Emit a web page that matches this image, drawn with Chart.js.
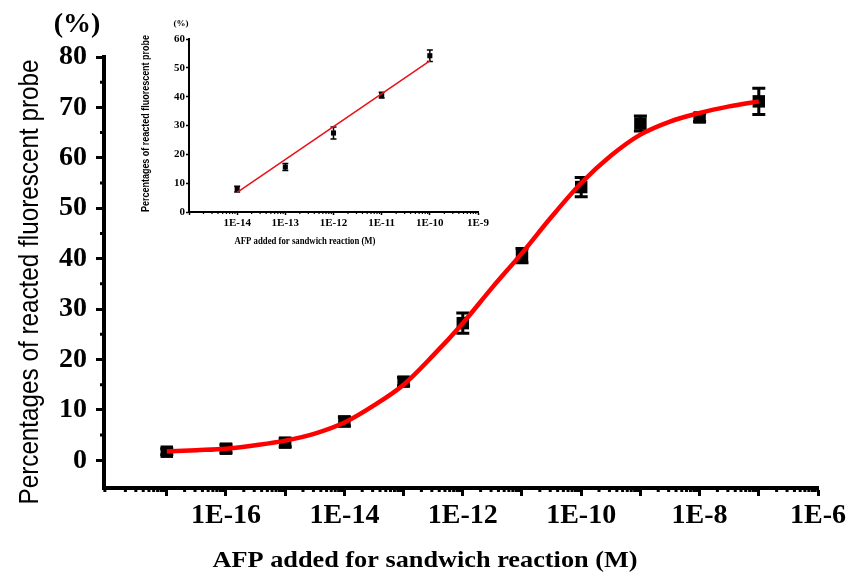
<!DOCTYPE html>
<html>
<head>
<meta charset="utf-8">
<script src="https://cdn.jsdelivr.net/npm/chart.js@4.4.0/dist/chart.umd.min.js"></script>
<style>
html, body { margin: 0; padding: 0; background: #fff; }
#wrap { position: relative; width: 849px; height: 577px; }
#mainChart { position: absolute; left: 0; top: 0; }
#insetChart { position: absolute; left: 135px; top: 10px; }
</style>
</head>
<body>
<div id="wrap">
  <canvas id="mainChart" width="849" height="577"></canvas>
  <canvas id="insetChart" width="365" height="245"></canvas>
</div>
<script>
// main plot - measured points (M, %)
const concM = [1e-17, 1e-16, 1e-15, 1e-14, 1e-13, 1e-12, 1e-11, 1e-10, 1e-9, 1e-8, 1e-7];
const reactedPct = [1.7, 2.3, 3.5, 7.7, 15.6, 27.2, 40.6, 54.2, 66.8, 68.0, 71.2];
const reactedErr = [0.6, 0.8, 0.8, 0.9, 0.8, 2.0, 1.4, 1.9, 1.5, 0.8, 2.6];

// red sigmoid fit, every half decade
const fitConc = [1e-17, 3.16e-17, 1e-16, 3.16e-16, 1e-15, 3.16e-15, 1e-14, 3.16e-14, 1e-13, 3.16e-13, 1e-12,
                 3.16e-12, 1e-11, 3.16e-11, 1e-10, 3.16e-10, 1e-9, 3.16e-9, 1e-8, 3.16e-8, 1e-7];
const fitPct = [1.75, 2.0, 2.3, 3.0, 3.9, 5.3, 7.5, 10.9, 15.0, 20.8, 27.2,
                34.3, 41.1, 48.3, 55.0, 60.4, 64.6, 67.2, 68.9, 70.2, 71.2];

const yTicks = [0, 10, 20, 30, 40, 50, 60, 70, 80];
const yMinor = [5, 15, 25, 35, 45, 55, 65, 75];
const xMajor = [1e-17, 1e-16, 1e-15, 1e-14, 1e-13, 1e-12, 1e-11, 1e-10, 1e-9, 1e-8, 1e-7, 1e-6];
const xTickLabels = ['', '1E-16', '', '1E-14', '', '1E-12', '', '1E-10', '', '1E-8', '', '1E-6'];

// inset - linear range
const insetConc = [1e-14, 1e-13, 1e-12, 1e-11, 1e-10];
const insetPct = [7.9, 15.6, 27.4, 40.5, 54.2];
const insetErr = [1.0, 1.2, 2.1, 1.0, 2.0];
const insetFitConc = [1e-14, 1e-10];
const insetFitPct = [6.8, 52.4];
const insetYTicks = [0, 10, 20, 30, 40, 50, 60];
const insetXMajor = [1e-15, 1e-14, 1e-13, 1e-12, 1e-11, 1e-10, 1e-9];
const insetXLabels = ['', '1E-14', '1E-13', '1E-12', '1E-11', '1E-10', '1E-9'];

const SERIF = "'Liberation Serif', 'Times New Roman', serif";
const SANS = "'Liberation Sans', Arial, sans-serif";

// vertical error bars with caps, drawn under the markers
const errorBars = {
    id: 'errorBars',
    beforeDatasetsDraw(chart, args, opts) {
        const ctx = chart.ctx;
        const xs = chart.scales.x, ys = chart.scales.y;
        ctx.save();
        ctx.strokeStyle = '#000';
        ctx.lineWidth = opts.width;
        chart.data.datasets.forEach(ds => {
            if (!ds.errors) return;
            ds.data.forEach((d, i) => {
                const e = ds.errors[i];
                const px = xs.getPixelForValue(d.x);
                const top = ys.getPixelForValue(d.y + e);
                const bot = ys.getPixelForValue(d.y - e);
                const h = opts.cap / 2;
                ctx.beginPath();
                ctx.moveTo(px, top); ctx.lineTo(px, bot);
                ctx.moveTo(px - h, top); ctx.lineTo(px + h, top);
                ctx.moveTo(px - h, bot); ctx.lineTo(px + h, bot);
                ctx.stroke();
            });
        });
        ctx.restore();
    }
};

// short minor ticks (log x axis 2..9, and given y values)
const minorTicks = {
    id: 'minorTicks',
    afterDraw(chart, args, o) {
        const ctx = chart.ctx, area = chart.chartArea;
        const xs = chart.scales.x, ys = chart.scales.y;
        ctx.save();
        ctx.strokeStyle = '#000';
        ctx.lineWidth = o.width;
        ctx.beginPath();
        for (let e = Math.floor(Math.log10(xs.min)); e < Math.log10(xs.max); e++) {
            for (let m = 2; m <= 9; m++) {
                const v = m * Math.pow(10, e);
                if (v < xs.min || v > xs.max) continue;
                const px = xs.getPixelForValue(v);
                ctx.moveTo(px, area.bottom);
                ctx.lineTo(px, area.bottom + o.len);
            }
        }
        (o.y || []).forEach(v => {
            const py = ys.getPixelForValue(v);
            ctx.moveTo(area.left, py);
            ctx.lineTo(area.left - o.len, py);
        });
        ctx.stroke();
        ctx.restore();
    }
};

// free text: axis titles and the (%) unit; "fit" squeezes the text to a given length
const freeText = {
    id: 'freeText',
    afterDraw(chart, args, opts) {
        const ctx = chart.ctx;
        (opts.items || []).forEach(t => {
            ctx.save();
            ctx.font = t.font;
            ctx.translate(t.x, t.y);
            if (t.rotate) ctx.rotate(t.rotate);
            if (t.fit) ctx.scale(t.fit / ctx.measureText(t.text).width, 1);
            ctx.fillStyle = '#000';
            ctx.textAlign = 'center';
            ctx.textBaseline = 'middle';
            ctx.fillText(t.text, 0, 0);
            ctx.restore();
        });
    }
};

function xy(xsArr, ysArr) {
    return xsArr.map((x, i) => ({ x: x, y: ysArr[i] }));
}

function noPad(s) {
    s.paddingLeft = 0; s.paddingRight = 0; s.paddingTop = 0; s.paddingBottom = 0;
}

new Chart(document.getElementById('mainChart'), {
    type: 'scatter',
    data: {
        datasets: [{
            label: 'fit',
            data: xy(fitConc, fitPct),
            showLine: true,
            borderColor: '#ff0000',
            borderWidth: 4.5,
            pointRadius: 0,
            cubicInterpolationMode: 'monotone',
            order: 0
        }, {
            label: 'measured',
            data: xy(concM, reactedPct),
            errors: reactedErr,
            pointStyle: 'rect',
            pointRadius: 8.8,
            backgroundColor: '#000',
            borderColor: '#000',
            borderWidth: 0,
            order: 1
        }]
    },
    options: {
        responsive: false,
        animation: false,
        devicePixelRatio: 1,
        layout: { padding: { left: 0, right: 31, top: 57, bottom: 0 } },
        plugins: {
            legend: { display: false },
            tooltip: { enabled: false },
            errorBars: { width: 3, cap: 13 },
            minorTicks: { len: 4, width: 3, y: yMinor },
            freeText: {
                items: [
                    { text: '(%)', x: 77, y: 25, font: 'bold 28px ' + SERIF },
                    { text: 'Percentages of reacted fluorescent probe', x: 30, y: 282, rotate: -Math.PI / 2, fit: 445, font: '28px ' + SANS },
                    { text: 'AFP added for sandwich reaction (M)', x: 425, y: 561, fit: 425, font: 'bold 24px ' + SERIF }
                ]
            }
        },
        scales: {
            x: {
                type: 'logarithmic',
                min: 8.7e-19,
                max: 1e-6,
                afterBuildTicks: s => { s.ticks = xMajor.map(v => ({ value: v })); },
                afterFit: s => { s.height = 89; noPad(s); },
                ticks: {
                    callback: (v, i) => xTickLabels[i],
                    autoSkip: false,
                    maxRotation: 0,
                    color: '#000',
                    padding: 3,
                    font: { family: SERIF, size: 28, weight: 'bold' }
                },
                grid: { drawOnChartArea: false, tickLength: 8, tickWidth: 3, tickColor: '#000' },
                border: { color: '#000', width: 4 }
            },
            y: {
                min: -5.5,
                max: 80,
                afterBuildTicks: s => { s.ticks = yTicks.map(v => ({ value: v })); },
                afterFit: s => { s.width = 104; noPad(s); },
                ticks: {
                    color: '#000',
                    padding: 9,
                    font: { family: SERIF, size: 28, weight: 'bold' }
                },
                grid: { drawOnChartArea: false, tickLength: 8, tickWidth: 3, tickColor: '#000' },
                border: { color: '#000', width: 4 }
            }
        }
    },
    plugins: [errorBars, minorTicks, freeText]
});

new Chart(document.getElementById('insetChart'), {
    type: 'scatter',
    data: {
        datasets: [{
            label: 'linear fit',
            data: xy(insetFitConc, insetFitPct),
            showLine: true,
            borderColor: '#e8141a',
            borderWidth: 1.6,
            pointRadius: 0,
            order: 0
        }, {
            label: 'measured',
            data: xy(insetConc, insetPct),
            errors: insetErr,
            pointStyle: 'rect',
            pointRadius: 3.6,
            backgroundColor: '#000',
            borderColor: '#000',
            borderWidth: 0,
            order: 1
        }]
    },
    options: {
        responsive: false,
        animation: false,
        devicePixelRatio: 1,
        layout: { padding: { left: 0, right: 22, top: 29, bottom: 0 } },
        plugins: {
            legend: { display: false },
            tooltip: { enabled: false },
            errorBars: { width: 1.5, cap: 6 },
            minorTicks: { len: 2, width: 1.2, y: [] },
            freeText: {
                items: [
                    { text: '(%)', x: 46, y: 14, font: 'bold 9px ' + SERIF },
                    { text: 'Percentages of reacted fluorescent probe', x: 11, y: 113.5, rotate: -Math.PI / 2, fit: 177, font: 'bold 10px ' + SANS },
                    { text: 'AFP added for sandwich reaction (M)', x: 170, y: 231, fit: 141, font: 'bold 10px ' + SERIF }
                ]
            }
        },
        scales: {
            x: {
                type: 'logarithmic',
                min: 1e-15,
                max: 1e-9,
                afterBuildTicks: s => { s.ticks = insetXMajor.map(v => ({ value: v })); },
                afterFit: s => { s.height = 43; noPad(s); },
                ticks: {
                    callback: (v, i) => insetXLabels[i],
                    autoSkip: false,
                    maxRotation: 0,
                    color: '#000',
                    padding: 2,
                    font: { family: SERIF, size: 11, weight: 'bold' }
                },
                grid: { drawOnChartArea: false, tickLength: 3, tickWidth: 1.5, tickColor: '#000' },
                border: { color: '#000', width: 2 }
            },
            y: {
                min: 0,
                max: 60,
                afterBuildTicks: s => { s.ticks = insetYTicks.map(v => ({ value: v })); },
                afterFit: s => { s.width = 54; noPad(s); },
                ticks: {
                    color: '#000',
                    padding: 1,
                    font: { family: SERIF, size: 11, weight: 'bold' }
                },
                grid: { drawOnChartArea: false, tickLength: 3, tickWidth: 1.5, tickColor: '#000' },
                border: { color: '#000', width: 2 }
            }
        }
    },
    plugins: [errorBars, minorTicks, freeText]
});
</script>
</body>
</html>
